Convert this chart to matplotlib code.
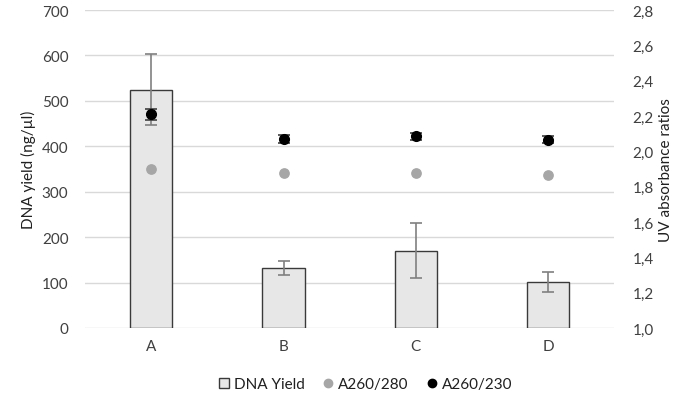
import matplotlib.pyplot as plt
from matplotlib.ticker import FuncFormatter, MultipleLocator
from matplotlib.lines import Line2D
from matplotlib.patches import Patch

plt.rcParams['font.family'] = ['Lato', 'DejaVu Sans']

samples = ['A', 'B', 'C', 'D']
dna_yield = [525, 132, 170, 102]
dna_yield_err = [78, 15, 61, 22]
a260_280 = [1.90, 1.88, 1.875, 1.865]
a260_230 = [2.21, 2.07, 2.085, 2.066]
a260_230_err = [0.03, 0.02, 0.02, 0.02]

fig = plt.figure(figsize=(6.81, 4.02), dpi=100)
ax = fig.add_axes([0.125, 0.1816, 0.777, 0.791])
x = range(len(samples))

ax.bar(x, dna_yield, width=0.32, color='#e7e7e7', edgecolor='#3a3a3a', linewidth=1.0, zorder=2)
ax.errorbar(x, dna_yield, yerr=dna_yield_err, fmt='none', ecolor='#808080',
            elinewidth=1.2, capsize=4, capthick=1.2, zorder=3)
ax.set_ylim(0, 700)
ax.set_xlim(-0.5, 3.5)
ax.yaxis.set_major_locator(MultipleLocator(100))
ax.grid(axis='y', color='#d9d9d9', linewidth=1.0, zorder=0)
ax.set_axisbelow(True)
for s in ax.spines.values():
    s.set_visible(False)
ax.tick_params(length=0, labelsize=11, colors='#404040', pad=8)
ax.tick_params(axis='y', pad=12)
ax.set_xticks(list(x))
ax.set_xticklabels(samples)
ax.set_ylabel('DNA yield (ng/µl)', fontsize=11, color='#202020', labelpad=4)

ax2 = ax.twinx()
ax2.scatter(x, a260_280, s=45, color='#a6a6a6', zorder=4)
ax2.errorbar(x, a260_230, yerr=a260_230_err, fmt='o', color='black', markersize=7,
             ecolor='#404040', elinewidth=1.2, capsize=4, capthick=1.2, zorder=5)
ax2.set_ylim(1.0, 2.8)
ax2.yaxis.set_major_locator(MultipleLocator(0.2))
ax2.yaxis.set_major_formatter(FuncFormatter(lambda v, p: f'{v:.1f}'.replace('.', ',')))
for s in ax2.spines.values():
    s.set_visible(False)
ax2.tick_params(length=0, labelsize=11, colors='#404040', pad=13)
ax2.set_ylabel('UV absorbance ratios', fontsize=11, color='#202020', labelpad=4)

handles = [
    Patch(facecolor='#e7e7e7', edgecolor='#3a3a3a', label='DNA Yield'),
    Line2D([], [], marker='o', linestyle='none', color='#a6a6a6', markersize=6, label='A260/280'),
    Line2D([], [], marker='o', linestyle='none', color='black', markersize=6, label='A260/230'),
]
fig.legend(handles=handles, loc='lower center', ncol=3, frameon=False, fontsize=11,
           bbox_to_anchor=(0.537, -0.01), handlelength=0.7, handletextpad=0.3, columnspacing=1.2,
           labelcolor='#202020')

fig.savefig('out.png', dpi=100)
